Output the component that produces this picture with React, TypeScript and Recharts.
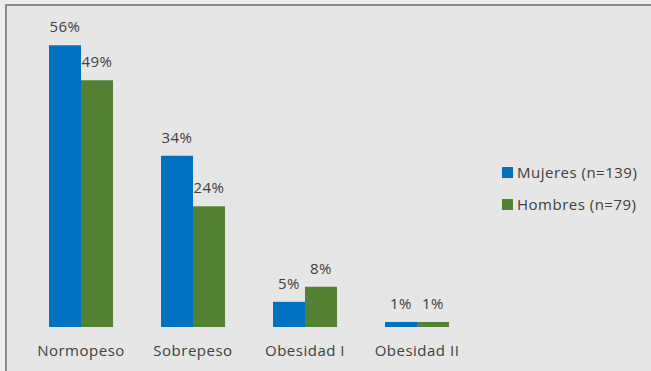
import React from 'react';
import { BarChart, Bar, XAxis, YAxis, LabelList } from 'recharts';

const categories = ['Normopeso', 'Sobrepeso', 'Obesidad I', 'Obesidad II'];
const mujeres = [56, 34, 5, 1];
const hombres = [49, 24, 8, 1];

const SERIES = [
  { key: 'mujeres', name: 'Mujeres (n=139)', color: '#0070C0' },
  { key: 'hombres', name: 'Hombres (n=79)', color: '#548235' }
];

const data = categories.map((name, i) => ({
  name,
  mujeres: mujeres[i],
  hombres: hombres[i]
}));

const FONT = '"Open Sans", "Noto Sans", sans-serif';
const TEXT = '#404040';
const textStyle = { fill: TEXT, fontSize: 15, fontFamily: FONT, letterSpacing: 0.5 };

export default function App() {
  return (
    <div
      style={{
        position: 'fixed',
        left: 0,
        top: 0,
        width: 651,
        height: 371,
        background: '#ececec'
      }}
    >
      <div
        style={{
          position: 'absolute',
          left: 5,
          top: 4,
          right: 0,
          bottom: 0,
          background: '#e6e6e6',
          borderLeft: '2px solid #8c8c8c',
          borderTop: '2px solid #8c8c8c'
        }}
      />
      <div style={{ position: 'absolute', left: 0, top: 0 }}>
        <BarChart
          width={651}
          height={371}
          data={data}
          margin={{ top: 25, right: 178, bottom: 14, left: 25 }}
          barCategoryGap={24}
          barGap={0}
        >
          <XAxis
            dataKey="name"
            axisLine={false}
            tickLine={false}
            height={30}
            tick={textStyle}
            tickMargin={12}
          />
          <YAxis hide domain={[0, 60]} />
          {SERIES.map((s) => (
            <Bar key={s.key} dataKey={s.key} name={s.name} fill={s.color} barSize={32} isAnimationActive={false}>
              <LabelList
                dataKey={s.key}
                position="top"
                offset={13}
                formatter={(v: number) => `${v}%`}
                style={textStyle}
              />
            </Bar>
          ))}
        </BarChart>
      </div>
      {/* legend */}
      <div
        style={{
          position: 'absolute',
          left: 502,
          top: 156,
          fontFamily: FONT,
          fontSize: 15,
          letterSpacing: 0.5,
          color: TEXT
        }}
      >
        {SERIES.map((s) => (
          <div key={s.key} style={{ display: 'flex', alignItems: 'center', height: 32, whiteSpace: 'nowrap' }}>
            <span style={{ width: 11, height: 11, background: s.color, marginRight: 4 }} />
            <span>{s.name}</span>
          </div>
        ))}
      </div>
    </div>
  );
}
